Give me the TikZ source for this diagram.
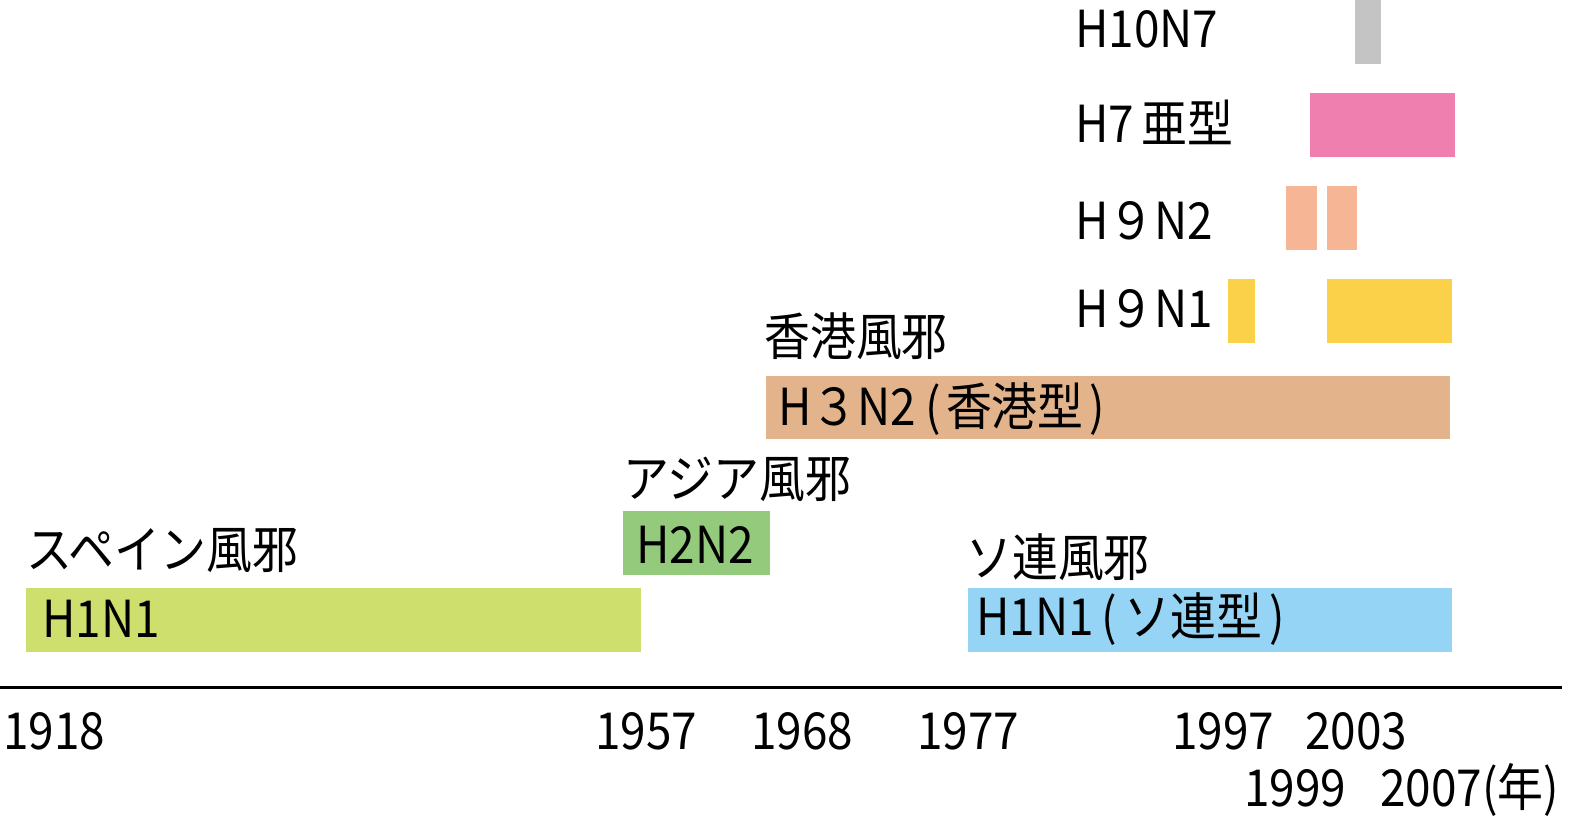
\documentclass[tikz,border=0pt]{standalone}
\usepackage{fontspec}
\setmainfont{Noto Sans CJK JP}
\definecolor{cgray}{HTML}{C4C4C4}
\definecolor{cpink}{HTML}{EE7FAF}
\definecolor{csalmon}{HTML}{F6B594}
\definecolor{cyellow}{HTML}{FCD14A}
\definecolor{ctan}{HTML}{E3B38C}
\definecolor{clime}{HTML}{CEDF6E}
\definecolor{cgreen}{HTML}{94CA7C}
\definecolor{cblue}{HTML}{95D4F5}
\newcommand{\nx}[1]{\scalebox{0.9}[1]{#1}}
\tikzset{
  lbl/.style={anchor=base west, inner sep=0pt, font=\fontsize{51}{60}\selectfont, text=black},
}
\begin{document}
\begin{tikzpicture}[x=1pt,y=-1pt]
\useasboundingbox (0,0) rectangle (1572,824);
% bars
\fill[cgray]   (1355,0)   rectangle (1381,64);
\fill[cpink]   (1310,93)  rectangle (1455,157);
\fill[csalmon] (1286,186) rectangle (1317,250);
\fill[csalmon] (1327,186) rectangle (1357,250);
\fill[cyellow] (1228,279) rectangle (1255,343);
\fill[cyellow] (1327,279) rectangle (1452,343);
\fill[ctan]    (766,376)  rectangle (1450,439);
\fill[cgreen]  (623,511)  rectangle (770,575);
\fill[clime]   (26,588)   rectangle (641,652);
\fill[cblue]   (968,588)  rectangle (1452,652);
% axis
\coordinate (axL) at (0,687);
\coordinate (axR) at (1562,687);
\draw[line width=3pt] (axL) -- (axR);
% strain labels top right
\node[lbl] (h10n7) at (1075,48) {\nx{H10N7}};
\node[lbl] (h7) at (1075,143) {\nx{H7\,亜型}};
\node[lbl] (h9n2) at (1075,239) {\nx{H９N2}};
\node[lbl] (h9n1) at (1075,327) {\nx{H９N1}};
% pandemic names
\node[lbl] (hk) at (764,355) {\nx{香港風邪}};
\node[lbl] (h3n2) at (778,425) {\nx{H３N2\hspace{10pt}(\hspace{6pt}香港型\hspace{6pt})}};
\node[lbl] (asia) at (623,497) {\nx{アジア風邪}};
\node[lbl] (h2n2) at (636,563) {\nx{H2N2}};
\node[lbl] (spain) at (26,568) {\nx{スペイン風邪}};
\node[lbl] (h1n1a) at (42,637) {\nx{H1N1}};
\node[lbl] (ussr) at (966,576) {\nx{ソ連風邪}};
\node[lbl] (h1n1b) at (976,635) {\nx{H1N1\,(\,ソ連型\,)}};
% years
\node[lbl] (y1918) at (3,749) {\nx{1918}};
\node[lbl] (y1957) at (595,749) {\nx{1957}};
\node[lbl] (y1968) at (751,749) {\nx{1968}};
\node[lbl] (y1977) at (917,749) {\nx{1977}};
\node[lbl] (y1997) at (1172,749) {\nx{1997}};
\node[lbl] (y2003) at (1305,749) {\nx{2003}};
\node[lbl] (y1999) at (1244,806) {\nx{1999}};
\node[lbl] (y2007) at (1380,806) {\nx{2007(年)}};
\end{tikzpicture}
\end{document}
